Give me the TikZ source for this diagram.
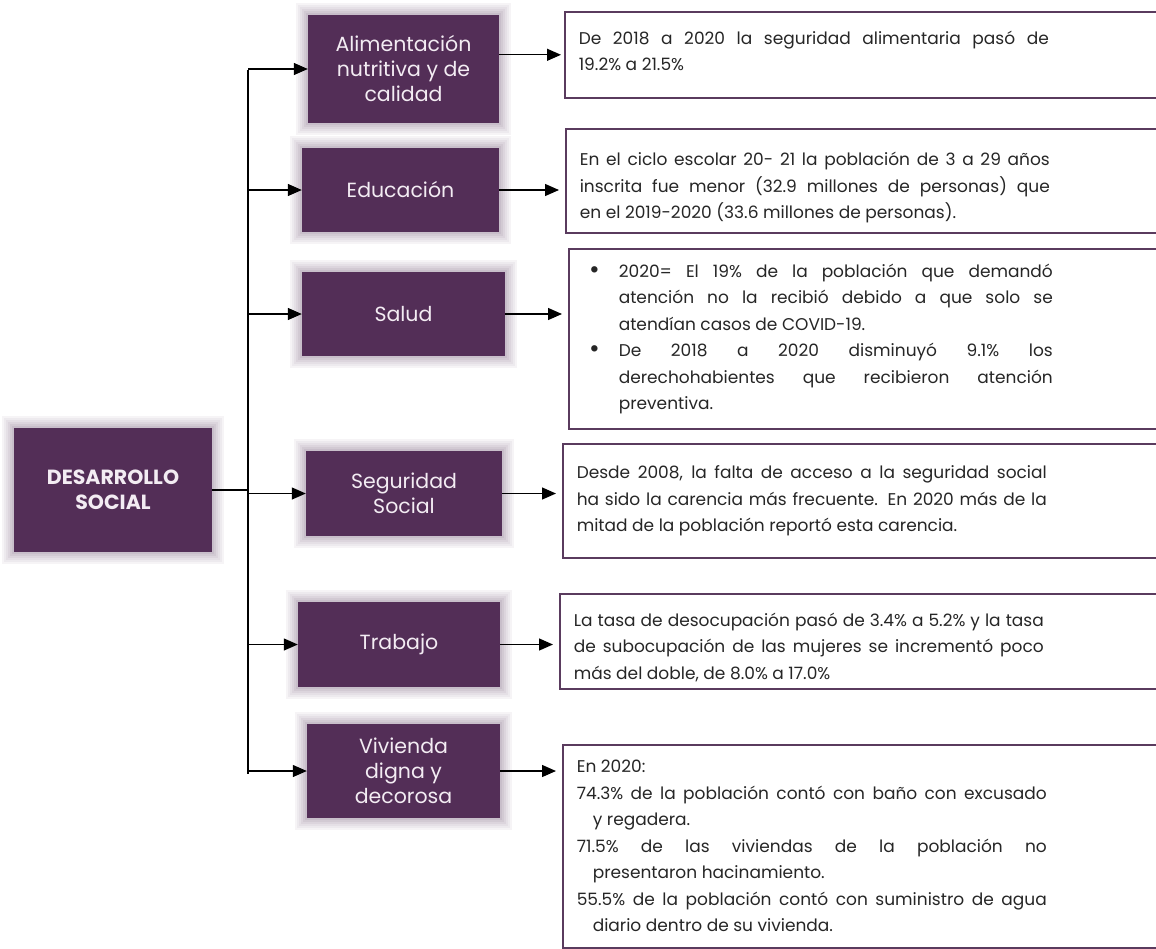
\documentclass[tikz,border=0pt]{standalone}
\usepackage{fontspec}
\setmainfont{Poppins}
\usetikzlibrary{arrows.meta,positioning,calc}

\definecolor{catpurple}{HTML}{532E57}
\definecolor{glowpurple}{HTML}{7E6682}
\definecolor{framepurple}{HTML}{5A3B5E}
\definecolor{labelwhite}{HTML}{F3ECF3}
\definecolor{bodygray}{HTML}{262626}

\newcommand{\bigdot}{\leavevmode\llap{\raisebox{-1pt}{\fontsize{26}{26}\selectfont\textbullet}\hspace{19pt}}}

\begin{document}
\begin{tikzpicture}[x=1pt, y=-1pt,
  glow/.style={preaction={draw=glowpurple, line width=24pt, opacity=0.07, rounded corners=10pt},
               preaction={draw=glowpurple, line width=20pt, opacity=0.07, rounded corners=8pt},
               preaction={draw=glowpurple, line width=16pt, opacity=0.08, rounded corners=6pt},
               preaction={draw=glowpurple, line width=12pt, opacity=0.09, rounded corners=4pt},
               preaction={draw=glowpurple, line width=8pt, opacity=0.10, rounded corners=2pt},
               preaction={draw=glowpurple, line width=4pt, opacity=0.12}},
  cat/.style={rectangle, glow, fill=catpurple, text=labelwhite, align=center, inner sep=2pt, font=\fontsize{20.5}{25}\selectfont},
  info/.style={rectangle, draw=framepurple, line width=1.6pt, fill=white, anchor=north west, text width=590pt, inner xsep=14pt, align=justify, text=bodygray, font=\fontsize{17}{26.5}\selectfont, execute at begin node={\rightskip=120pt\relax}},
  arrow/.style={-{Triangle[length=14pt,width=12pt]}, line width=1.3pt},
  link/.style={line width=1.3pt}
]
\useasboundingbox (0,0) rectangle (1156,948);
\clip (0,0) rectangle (1156,948);

% main topic
\node[cat, minimum width=198pt, minimum height=124pt, font=\fontsize{20.5}{25}\selectfont\bfseries] (ds) at (113,490) {DESARROLLO\\SOCIAL};

% topics
\node[cat, minimum width=191pt, minimum height=108pt] (alim) at (403.5,69) {Alimentación\\nutritiva y de\\calidad};
\node[cat, minimum width=197pt, minimum height=84pt] (educ) at (400.5,190) {Educación};
\node[cat, minimum width=203pt, minimum height=84pt] (salud) at (403.5,314) {Salud};
\node[cat, minimum width=196pt, minimum height=85pt] (segur) at (404,493.5) {Seguridad\\Social};
\node[cat, minimum width=202pt, minimum height=85pt] (trab) at (399,644.5) {Trabajo};
\node[cat, minimum width=193pt, minimum height=94pt] (viv) at (403.5,771) {Vivienda\\digna y\\decorosa};

% data boxes
\node[info, minimum height=86pt] (talim) at (564,11) {De 2018 a 2020 la seguridad alimentaria pasó de\linebreak 19.2\% a 21.5\%\par\vspace{8pt}};
\node[info, minimum height=104pt] (teduc) at (565,128) {En el ciclo escolar 20- 21 la población de 3 a 29 años\linebreak inscrita fue menor (32.9 millones de personas) que\linebreak en el 2019-2020 (33.6 millones de personas).\par\vspace{-14pt}};
\node[info, minimum height=180pt] (tsalud) at (568,248) {\hangindent=36pt\hangafter=0
  \bigdot 2020= El 19\% de la población que demandó\linebreak atención no la recibió debido a que solo se\linebreak atendían casos de COVID-19.\par
  \hangindent=36pt\hangafter=0
  \bigdot De 2018 a 2020 disminuyó 9.1\% los\linebreak derechohabientes que recibieron atención\linebreak preventiva.\par};
\node[info, minimum height=114pt] (tsegur) at (562,443) {Desde 2008, la falta de acceso a la seguridad social\linebreak ha sido la carencia más frecuente. En 2020 más de la\linebreak mitad de la población reportó esta carencia.};
\node[info, minimum height=95pt] (ttrab) at (559,593) {La tasa de desocupación pasó de 3.4\% a 5.2\% y la tasa\linebreak de subocupación de las mujeres se incrementó poco\linebreak más del doble, de 8.0\% a 17.0\%\par\vspace{-12pt}};
\node[info, minimum height=203pt] (tviv) at (562,744) {En 2020:\par
  \hangindent=16pt 74.3\% de la población contó con baño con excusado\linebreak y regadera.\par
  \hangindent=16pt 71.5\% de las viviendas de la población no\linebreak presentaron hacinamiento.\par
  \hangindent=16pt 55.5\% de la población contó con suministro de agua\linebreak diario dentro de su vivienda.\par};

% bus
\coordinate (bustop) at (248,70);
\coordinate (busbot) at (248,774);
\draw[link] (bustop) -- (busbot);
\draw[link] (ds.east) -- (ds.east -| bustop);

\foreach \c in {alim,educ,salud,segur,trab,viv}
  \draw[arrow] (bustop |- \c.west) -- (\c.west);

\draw[arrow, shorten >=3pt] (alim.east |- talim.west) -- (talim.west);
\foreach \c/\t in {educ/teduc,salud/tsalud,segur/tsegur,trab/ttrab,viv/tviv}
  \draw[arrow, shorten >=6pt] (\c.east) -- (\c.east -| \t.west);

\end{tikzpicture}
\end{document}
